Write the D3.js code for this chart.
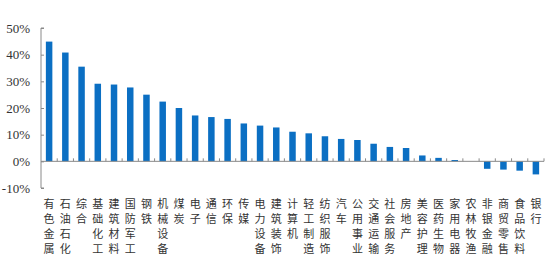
<!DOCTYPE html>
<html>
<head>
<meta charset="utf-8">
<script src="https://cdn.jsdelivr.net/npm/d3@7"></script>
<style>
  body { margin: 0; background: #fff; }
  svg { display: block; }
</style>
</head>
<body>
<div id="chart"></div>
<script>
const categories = [
  "有色金属", "石油石化", "综合", "基础化工", "建筑材料", "国防军工", "钢铁", "机械设备",
  "煤炭", "电子", "通信", "环保", "传媒", "电力设备", "建筑装饰", "计算机",
  "轻工制造", "纺织服饰", "汽车", "公用事业", "交通运输", "社会服务", "房地产", "美容护理",
  "医药生物", "家用电器", "农林牧渔", "非银金融", "商贸零售", "食品饮料", "银行"
];
const values = [
  44.9, 40.8, 35.5, 29.1, 28.8, 27.7, 25.0, 22.4,
  20.0, 17.2, 16.6, 15.9, 14.2, 13.4, 12.7, 11.1,
  10.5, 9.4, 8.4, 8.0, 6.6, 5.4, 5.0, 2.2,
  1.3, 0.5, 0.0, -2.8, -3.1, -3.5, -4.9
];
const yTicks = [-10, 0, 10, 20, 30, 40, 50];

const width = 554, height = 278;
const left = 41, right = 544;

const svg = d3.select("#chart").append("svg")
  .attr("width", width)
  .attr("height", height);

const x = d3.scaleBand()
  .domain(categories)
  .range([left, right])
  .paddingInner(0.6)
  .paddingOuter(0.3);

const y = d3.scaleLinear()
  .domain([-10, 50])
  .range([188, 28]);

// bars
svg.selectAll(".bar")
  .data(values)
  .enter()
  .append("rect")
  .attr("class", "bar")
  .attr("x", (d, i) => x(categories[i]))
  .attr("width", x.bandwidth())
  .attr("y", (d) => y(Math.max(0, d)))
  .attr("height", (d) => Math.abs(y(d) - y(0)))
  .attr("fill", "#0b6fc3");

// y axis, ticks pointing inward
const yAxis = svg.append("g")
  .attr("transform", `translate(${left},0)`)
  .call(d3.axisRight(y).tickValues(yTicks).tickSize(3).tickFormat(""));
yAxis.select(".domain").attr("stroke", "#8a8a8a").attr("d", `M3,${y(50)}H0V${y(-10)}H3`);
yAxis.selectAll(".tick line").attr("stroke", "#8a8a8a");

svg.selectAll(".ylabel")
  .data(yTicks)
  .enter()
  .append("text")
  .attr("class", "ylabel")
  .attr("x", 30)
  .attr("y", (d) => y(d))
  .attr("dy", "0.35em")
  .attr("text-anchor", "end")
  .style("font-family", "'Liberation Serif', 'Times New Roman', serif")
  .style("font-size", "13px")
  .style("fill", "#333")
  .text((d) => d + "%");

// x axis at zero, ticks between bands pointing up
const boundaries = d3.range(1, categories.length + 1)
  .map((i) => left + i * (right - left) / categories.length);
const xAxis = svg.append("g");
xAxis.append("line")
  .attr("x1", left)
  .attr("x2", right)
  .attr("y1", y(0))
  .attr("y2", y(0))
  .attr("stroke", "#8a8a8a");
xAxis.selectAll(".xtick")
  .data(boundaries)
  .enter()
  .append("line")
  .attr("x1", (d) => d)
  .attr("x2", (d) => d)
  .attr("y1", y(0))
  .attr("y2", y(0) - 3)
  .attr("stroke", "#8a8a8a");

// vertical category labels, one character per line
const labels = svg.selectAll(".xlabel")
  .data(categories)
  .enter()
  .append("text")
  .attr("class", "xlabel")
  .attr("text-anchor", "middle")
  .style("font-family", "'Noto Sans CJK SC', sans-serif")
  .style("font-size", "11px")
  .style("fill", "#333");

labels.selectAll("tspan")
  .data((d) => d.split(""))
  .enter()
  .append("tspan")
  .attr("x", function () {
    const c = d3.select(this.parentNode).datum();
    return x(c) + x.bandwidth() / 2;
  })
  .attr("y", (d, i) => 208 + i * 15)
  .text((d) => d);
</script>
</body>
</html>
